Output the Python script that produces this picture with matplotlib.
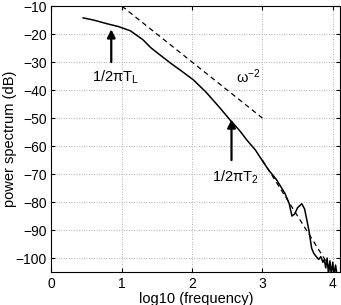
import matplotlib
matplotlib.use("Agg")
import matplotlib.pyplot as plt

plt.rcParams['font.family'] = ['Liberation Sans', 'DejaVu Sans']
plt.rcParams['mathtext.fontset'] = 'custom'
plt.rcParams['mathtext.rm'] = 'Liberation Sans'
plt.rcParams['mathtext.it'] = 'Liberation Sans'
plt.rcParams['mathtext.bf'] = 'Liberation Sans:bold'

# spectrum curve (log10 frequency, dB)
freq = [0.45, 0.6, 0.79, 0.95, 1.12, 1.3, 1.41, 1.52, 1.7, 1.85, 2.02, 2.2,
        2.4, 2.54, 2.68, 2.78, 2.9, 3.0, 3.09, 3.2, 3.32, 3.38, 3.42, 3.46,
        3.5, 3.56, 3.6, 3.66, 3.70, 3.73, 3.76, 3.8, 3.83, 3.86, 3.88, 3.9,
        3.92, 3.94, 3.96, 3.98, 4.0, 4.02, 4.04, 4.06]
power = [-14.2, -15.0, -16.3, -17.3, -18.8, -22.0, -24.8, -27.0, -30.5, -33.2,
         -36.4, -40.8, -46.5, -50.7, -54.6, -57.9, -61.4, -65.3, -68.6, -72.0,
         -76.9, -80.5, -85.0, -84.2, -82.0, -80.6, -82.5, -90.0, -96.5, -98.3,
         -99.3, -100.5, -99.5, -101.5, -100.5, -103.5, -100.0, -106.0, -101.0,
         -106.0, -101.5, -106.0, -102.5, -106.0]

# reference slopes
slope2_x = [1.0, 3.0]
slope2_y = [-10.0, -50.0]
slope4_x = [3.0, 3.95]
slope4_y = [-65.0, -103.0]

fig = plt.figure(figsize=(3.41, 3.05), dpi=100)
ax = fig.add_axes([0.151, 0.108, 0.8475, 0.872])

ax.plot(freq, power, color='black', lw=1.1)
ax.plot(slope2_x, slope2_y, color='black', lw=0.9, ls=(0, (4, 3)))
ax.plot(slope4_x, slope4_y, color='black', lw=0.9, ls=(0, (4, 3)))

ax.annotate('', xy=(0.85, -18.3), xytext=(0.85, -30),
            arrowprops=dict(arrowstyle='-|>', color='black', lw=1.6,
                            mutation_scale=12, shrinkA=0, shrinkB=0))
ax.annotate('', xy=(2.56, -50.5), xytext=(2.56, -65),
            arrowprops=dict(arrowstyle='-|>', color='black', lw=1.6,
                            mutation_scale=12, shrinkA=0, shrinkB=0))

ax.text(0.91, -35.5, r'1/2$\mathrm{\pi}$T$_\mathrm{L}$', ha='center', va='center', fontsize=10.5)
ax.text(2.61, -71, r'1/2$\mathrm{\pi}$T$_\mathrm{2}$', ha='center', va='center', fontsize=10.5)
ax.text(2.8, -35.2, r'$\mathrm{\omega}^{-2}$', ha='center', va='center', fontsize=10.5)

ax.set_xlim(0, 4.11)
ax.set_ylim(-105, -10)
ax.set_xticks([0, 1, 2, 3, 4])
ax.set_yticks(list(range(-100, -9, 10)))
ax.tick_params(direction='in', top=True, right=True, labelsize=10, length=3)
ax.grid(True, color='#999999', ls=(0, (1, 2)), lw=0.6)
ax.set_xlabel('log10 (frequency)', fontsize=10.5, labelpad=0.5)
ax.set_ylabel('power spectrum (dB)', fontsize=10.5, labelpad=-1.5)

fig.savefig('out.png', dpi=100)
